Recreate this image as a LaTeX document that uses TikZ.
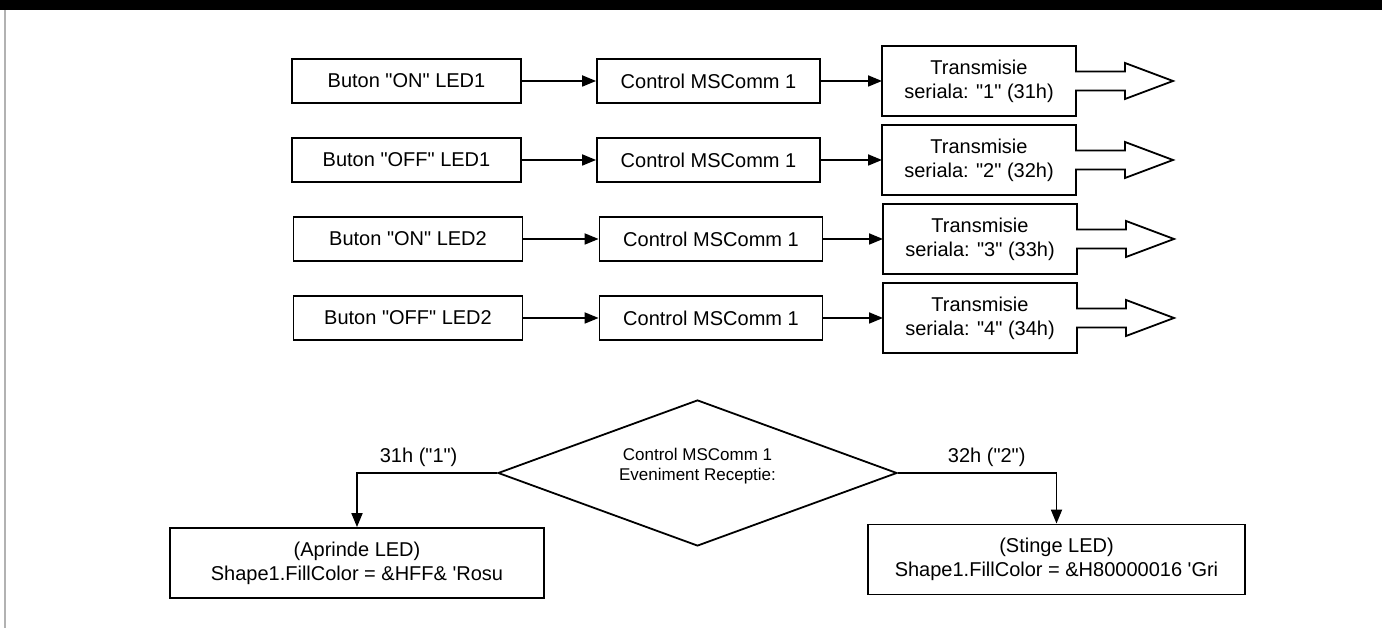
\documentclass[tikz,border=0pt]{standalone}
\usepackage{fontspec}
\setmainfont{Liberation Sans}[Ligatures=TeXOff]
\usetikzlibrary{shapes.geometric,arrows.meta}

\begin{document}
\begin{tikzpicture}[x=1pt,y=1pt,
  font=\fontsize{20}{24}\selectfont,
  rowbox/.style={draw, rectangle, line width=1.8pt, minimum height=44pt},
  txbox/.style={rectangle, outer sep=0pt, minimum width=194pt, minimum height=70pt, align=center},
  actbox/.style={draw, rectangle, line width=1.8pt, minimum height=70pt, align=center},
  flow/.style={line width=1.8pt, -{Triangle[length=14pt,width=11pt]}},
  outline/.style={line width=1.8pt, line join=miter}]
\useasboundingbox (0,0) rectangle (1382,628);
\fill[black] (0,618) rectangle (1382,628);
\draw[gray!60, line width=2pt] (4.5,0) -- (4.5,618);

\node[rowbox, minimum width=229pt] (buton1) at (406.5,547) {Buton "ON" LED1};
\node[rowbox, minimum width=223pt] (control1) at (708.5,547) {Control MSComm 1};
\node[txbox] (trans1) at (979,547) {Transmisie\\seriala: "1" (31h)};

\node[rowbox, minimum width=229pt] (buton2) at (406.5,468) {Buton "OFF" LED1};
\node[rowbox, minimum width=223pt] (control2) at (708.5,468) {Control MSComm 1};
\node[txbox] (trans2) at (979,468) {Transmisie\\seriala: "2" (32h)};

\node[rowbox, minimum width=229pt] (buton3) at (408,389) {Buton "ON" LED2};
\node[rowbox, minimum width=223pt] (control3) at (711,389) {Control MSComm 1};
\node[txbox] (trans3) at (980,389) {Transmisie\\seriala: "3" (33h)};

\node[rowbox, minimum width=229pt] (buton4) at (408,310) {Buton "OFF" LED2};
\node[rowbox, minimum width=223pt] (control4) at (711,310) {Control MSComm 1};
\node[txbox] (trans4) at (980,310) {Transmisie\\seriala: "4" (34h)};

% box with open arrow for each serial transmission
\draw[outline] ([yshift=9.5pt]trans1.east) -- (trans1.north east) -- (trans1.north west) -- (trans1.south west) -- (trans1.south east) -- ([yshift=-9.5pt]trans1.east) -- ++(49,0) -- ++(0,-8.5) -- ++(48,18) -- ++(-48,18) -- ++(0,-8.5) -- cycle;
\draw[outline] ([yshift=9.5pt]trans2.east) -- (trans2.north east) -- (trans2.north west) -- (trans2.south west) -- (trans2.south east) -- ([yshift=-9.5pt]trans2.east) -- ++(49,0) -- ++(0,-8.5) -- ++(48,18) -- ++(-48,18) -- ++(0,-8.5) -- cycle;
\draw[outline] ([yshift=9.5pt]trans3.east) -- (trans3.north east) -- (trans3.north west) -- (trans3.south west) -- (trans3.south east) -- ([yshift=-9.5pt]trans3.east) -- ++(49,0) -- ++(0,-8.5) -- ++(48,18) -- ++(-48,18) -- ++(0,-8.5) -- cycle;
\draw[outline] ([yshift=9.5pt]trans4.east) -- (trans4.north east) -- (trans4.north west) -- (trans4.south west) -- (trans4.south east) -- ([yshift=-9.5pt]trans4.east) -- ++(49,0) -- ++(0,-8.5) -- ++(48,18) -- ++(-48,18) -- ++(0,-8.5) -- cycle;

\draw[flow] (buton1) -- (control1);
\draw[flow] (control1) -- (trans1);
\draw[flow] (buton2) -- (control2);
\draw[flow] (control2) -- (trans2);
\draw[flow] (buton3) -- (control3);
\draw[flow] (control3) -- (trans3);
\draw[flow] (buton4) -- (control4);
\draw[flow] (control4) -- (trans4);

\node[draw, diamond, aspect=2.73, line width=1.8pt, minimum width=399pt, minimum height=146pt, inner sep=0pt, align=center, text depth=18pt, font=\fontsize{17}{20}\selectfont] (receptie) at (697.5,155) {Control MSComm 1\\Eveniment Receptie:};
\node[actbox, minimum width=374pt] (aprinde) at (357,65) {(Aprinde LED)\\Shape1.FillColor = \&HFF\& 'Rosu};
\node[actbox, minimum width=377pt] (stinge) at (1056.5,68.5) {(Stinge LED)\\Shape1.FillColor = \&H80000016 'Gri};

\draw[flow] (receptie.west) -| node[pos=0.28, above, inner sep=5pt] {31h ("1")} (aprinde.north);
\draw[flow] (receptie.east) -| node[pos=0.28, above, inner sep=5pt] {32h ("2")} (stinge.north);
\end{tikzpicture}
\end{document}
